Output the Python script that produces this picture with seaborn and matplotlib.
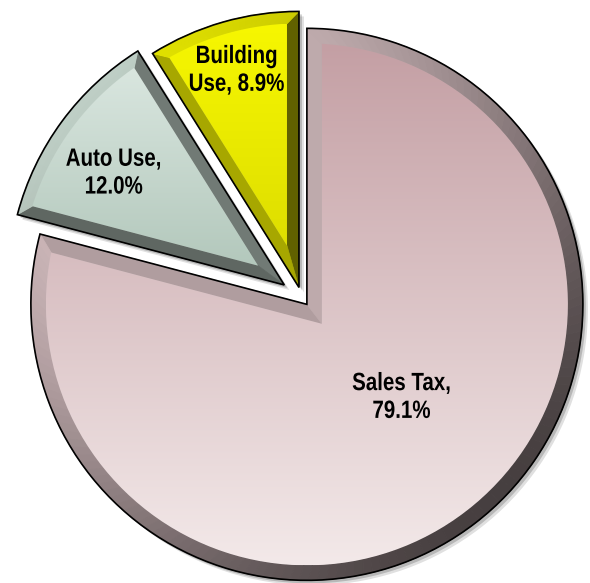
import textwrap
import numpy as np
import matplotlib.pyplot as plt
import seaborn as sns
from matplotlib import patheffects as pe
from matplotlib.patches import Polygon, Wedge
from matplotlib.colors import to_rgb
from matplotlib.transforms import Affine2D

# --- dados ---
categories = ["Sales Tax", "Auto Use", "Building Use"]
shares = [79.1, 12.0, 8.9]

# --- estilo ---
face_top = ["#c49fa4", "#d9e6df", "#f7f700"]
face_bottom = ["#f3e9e9", "#b3c8bc", "#dede00"]
explode = [8, 22, 11]          # deslocamento em pixels
bevel = [15, 12, 12]
label_dist = [0.48, 0.74, 0.82]
label_turn = [8, 3, 0]

sns.set_theme(style="white")
plt.rcParams["font.family"] = ["Liberation Sans", "DejaVu Sans"]


class Narrow(pe.AbstractPathEffect):
    """Estreita o texto na horizontal (imita Arial Narrow)."""

    def __init__(self, sx=0.82):
        super().__init__()
        self.sx = sx

    def draw_path(self, renderer, gc, tpath, affine, rgbFace=None):
        ext = tpath.get_extents(affine)
        cx = (ext.x0 + ext.x1) / 2
        squash = Affine2D().translate(-cx, 0).scale(self.sx, 1).translate(cx, 0)
        renderer.draw_path(gc, tpath, affine + squash, rgbFace)


fig = plt.figure(figsize=(5.9, 5.83), dpi=100)
ax = fig.add_axes([0, 0, 1, 1])

wedges, _ = ax.pie(shares, explode=explode, startangle=90, counterclock=False,
                   radius=276, center=(302, 285), frame=True,
                   wedgeprops=dict(edgecolor="black", linewidth=1.2))

light = np.array([-1.0, 1.0]) / np.sqrt(2)


def unit(deg):
    a = np.radians(deg)
    return np.array([np.cos(a), np.sin(a)])


def shade(base, normal):
    f = 0.64 + 0.32 * np.dot(normal, light)
    return tuple(np.clip(np.array(base) * f, 0, 1))


for i, w in enumerate(wedges):
    A = np.array(w.center)
    r = w.r
    t1, t2 = w.theta1, w.theta2
    d = bevel[i]
    base = (np.array(to_rgb(face_top[i])) + np.array(to_rgb(face_bottom[i]))) / 2

    # sombra
    for off, al in [(5, 0.12), (3, 0.18)]:
        ax.add_patch(Wedge((A[0] + off, A[1] - off), r, t1, t2, color="black",
                           alpha=al, lw=0, zorder=0))

    # face interna (recuada pelo bisel)
    half = np.radians((t2 - t1) / 2)
    A2 = A + d / np.sin(half) * unit((t1 + t2) / 2)
    R = r - d
    da = np.degrees(np.arcsin(d / R))
    p1, p2 = t1 + da, t2 - da
    arc_in = [A + R * unit(s) for s in np.linspace(p1, p2, 120)]
    face = np.vstack([A2] + arc_in)

    # facetas do bisel
    n1 = unit(t1 - 90)
    quad = [A, A + r * unit(t1), A + R * unit(p1), A2]
    ax.add_patch(Polygon(quad, closed=True, fc=shade(base, n1), ec=shade(base, n1), lw=0.5, zorder=2))
    n2 = unit(t2 + 90)
    quad = [A, A2, A + R * unit(p2), A + r * unit(t2)]
    ax.add_patch(Polygon(quad, closed=True, fc=shade(base, n2), ec=shade(base, n2), lw=0.5, zorder=2))

    ts = np.linspace(t1, t2, 150)
    ss = np.linspace(p1, p2, 150)
    for k in range(len(ts) - 1):
        nrm = unit((ts[k] + ts[k + 1]) / 2)
        c = shade(base, nrm)
        quad = [A + r * unit(ts[k]), A + r * unit(ts[k + 1]),
                A + R * unit(ss[k + 1]), A + R * unit(ss[k])]
        ax.add_patch(Polygon(quad, closed=True, fc=c, ec=c, lw=0.6, zorder=2))

    # gradiente da face
    grad = np.array(sns.blend_palette([face_top[i], face_bottom[i]], n_colors=256))
    img = np.repeat(grad[:, None, :], 2, axis=1)
    xmin, ymin = face.min(axis=0)
    xmax, ymax = face.max(axis=0)
    fpoly = Polygon(face, closed=True, fc="none", ec="none", zorder=3)
    ax.add_patch(fpoly)
    im = ax.imshow(img, extent=[xmin, xmax, ymin, ymax], origin="upper",
                   aspect="auto", interpolation="bilinear", zorder=3)
    im.set_clip_path(fpoly)

    # contorno por cima
    w.set_facecolor("none")
    w.set_zorder(5)

    # rótulo
    text = textwrap.fill(f"{categories[i]}, {shares[i]:.1f}%", width=10)
    pos = A + label_dist[i] * r * unit((t1 + t2) / 2 + label_turn[i])
    ax.text(pos[0], pos[1], text, ha="center", va="center", multialignment="center",
            fontsize=18, fontweight="bold", color="black", zorder=6,
            path_effects=[Narrow(0.82)])

ax.set_xlim(0, 590)
ax.set_ylim(0, 583)
ax.set_aspect("equal")
ax.axis("off")

fig.savefig("out.png", dpi=100)
